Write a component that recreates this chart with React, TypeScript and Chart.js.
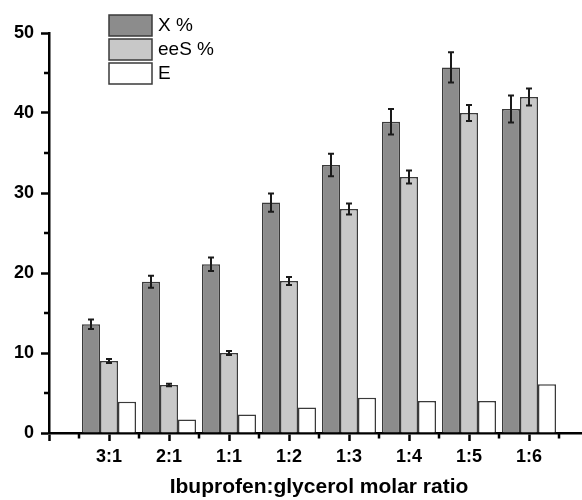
import React, { useEffect, useRef } from 'react';
import { Chart, registerables } from 'chart.js';

Chart.register(...registerables);

const categories = ['3:1', '2:1', '1:1', '1:2', '1:3', '1:4', '1:5', '1:6'];
const xValues = [13.6, 18.9, 21.1, 28.8, 33.5, 38.9, 45.7, 40.5];
const xErrors = [0.6, 0.75, 0.85, 1.15, 1.4, 1.6, 1.9, 1.7];
const eeSValues = [9.0, 6.0, 10.0, 19.0, 28.0, 32.0, 40.0, 42.0];
const eeSErrors = [0.25, 0.15, 0.25, 0.5, 0.7, 0.8, 1.0, 1.05];
const eValues = [3.9, 1.7, 2.3, 3.2, 4.4, 4.0, 4.0, 6.1];
const seriesNames = ['X %', 'eeS %', 'E'];
const yTicks = [0, 10, 20, 30, 40, 50];
const xTitle = 'Ibuprofen:glycerol molar ratio';

const FONT = "'Liberation Sans', Arial, Helvetica, sans-serif";
const fills = ['#8c8c8c', '#c8c8c8', '#ffffff'];
const edge = '#3a3a3a';

export default function App() {
  const ref = useRef<HTMLCanvasElement>(null);

  useEffect(() => {
    const canvas = ref.current;
    if (!canvas) return;
    const pad = (arr: number[]) => [null, ...arr, null];
    const labels = ['', ...categories, ''];
    const errs: (number[] | null)[] = [xErrors, eeSErrors, null];

    const errorBars = {
      id: 'errorBars',
      afterDatasetsDraw(chart: any) {
        const ctx = chart.ctx;
        const ys = chart.scales.y;
        ctx.save();
        ctx.strokeStyle = '#1a1a1a';
        ctx.lineWidth = 2;
        errs.forEach((e, di) => {
          if (!e) return;
          const meta = chart.getDatasetMeta(di);
          const vals = chart.data.datasets[di].data;
          meta.data.forEach((el: any, j: number) => {
            const v = vals[j];
            if (v == null) return;
            const err = e[j - 1];
            const x = el.x;
            const yTop = ys.getPixelForValue(v + err);
            const yBot = ys.getPixelForValue(v - err);
            ctx.beginPath();
            ctx.moveTo(x, yTop);
            ctx.lineTo(x, yBot);
            ctx.moveTo(x - 3, yTop);
            ctx.lineTo(x + 3, yTop);
            ctx.moveTo(x - 3, yBot);
            ctx.lineTo(x + 3, yBot);
            ctx.stroke();
          });
        });
        ctx.restore();
      },
    };

    const minorTicks = {
      id: 'minorTicks',
      afterDraw(chart: any) {
        const ctx = chart.ctx;
        const xs = chart.scales.x;
        const ys = chart.scales.y;
        const area = chart.chartArea;
        ctx.save();
        ctx.strokeStyle = '#000';
        ctx.lineWidth = 2.5;
        ctx.beginPath();
        for (let i = 0; i < yTicks.length - 1; i++) {
          const v = (yTicks[i] + yTicks[i + 1]) / 2;
          const y = ys.getPixelForValue(v);
          ctx.moveTo(area.left, y);
          ctx.lineTo(area.left - 5, y);
        }
        for (let i = 0; i < labels.length - 1; i++) {
          const x = (xs.getPixelForValue(i) + xs.getPixelForValue(i + 1)) / 2;
          ctx.moveTo(x, area.bottom);
          ctx.lineTo(x, area.bottom + 5.5);
        }
        ctx.stroke();
        ctx.restore();
      },
    };

    const legendBoxes = {
      id: 'legendBoxes',
      afterDraw(chart: any) {
        const ctx = chart.ctx;
        ctx.save();
        const bx = 109;
        const bw = 43;
        const bh = 21;
        const step = 24;
        const top0 = 15;
        ctx.font = `19px ${FONT}`;
        ctx.textBaseline = 'middle';
        ctx.textAlign = 'left';
        seriesNames.forEach((name, i) => {
          const y = top0 + i * step;
          ctx.fillStyle = fills[i];
          ctx.fillRect(bx, y, bw, bh);
          ctx.strokeStyle = edge;
          ctx.lineWidth = 1.5;
          ctx.strokeRect(bx, y, bw, bh);
          ctx.fillStyle = '#000';
          ctx.fillText(name, bx + bw + 6, y + bh / 2 + 0.5);
        });
        ctx.restore();
      },
    };

    const chart = new Chart(canvas, {
      type: 'bar',
      data: {
        labels,
        datasets: [
          { label: seriesNames[0], data: pad(xValues), backgroundColor: fills[0], borderColor: edge, borderWidth: 1.5 },
          { label: seriesNames[1], data: pad(eeSValues), backgroundColor: fills[1], borderColor: edge, borderWidth: 1.5 },
          { label: seriesNames[2], data: pad(eValues), backgroundColor: fills[2], borderColor: edge, borderWidth: 1.5 },
        ],
      },
      options: {
        responsive: false,
        maintainAspectRatio: false,
        animation: false,
        devicePixelRatio: 1,
        layout: { padding: { top: 33, right: 11, left: 0, bottom: 0 } },
        datasets: { bar: { categoryPercentage: 0.9, barPercentage: 1.0 } },
        plugins: {
          legend: { display: false },
          tooltip: { enabled: false },
          title: { display: false },
        },
        scales: {
          x: {
            type: 'category',
            offset: false,
            grid: {
              offset: false,
              drawOnChartArea: false,
              drawTicks: true,
              tickLength: 8,
              tickWidth: 2.5,
              tickColor: '#000',
              color: '#000',
            },
            border: { display: true, color: '#000', width: 2.5 },
            ticks: {
              autoSkip: false,
              maxRotation: 0,
              minRotation: 0,
              padding: 5,
              color: '#000',
              font: { family: FONT, size: 18, weight: 'bold' },
            },
            title: {
              display: true,
              text: xTitle,
              color: '#000',
              font: { family: FONT, size: 21, weight: 'bold' },
              padding: { top: 0, bottom: 0 },
            },
            afterFit(scale: any) {
              scale.height = 67;
            },
          },
          y: {
            type: 'linear',
            min: 0,
            max: 50,
            grid: {
              drawOnChartArea: false,
              drawTicks: true,
              tickLength: 8,
              tickWidth: 2.5,
              tickColor: '#000',
              color: '#000',
            },
            border: { display: true, color: '#000', width: 2.5 },
            ticks: {
              stepSize: 10,
              padding: 7,
              color: '#000',
              font: { family: FONT, size: 18, weight: 'bold' },
            },
            afterBuildTicks(scale: any) {
              scale.ticks = yTicks.map((v) => ({ value: v }));
            },
            afterFit(scale: any) {
              scale.width = 49;
            },
          },
        },
      },
      plugins: [errorBars, minorTicks, legendBoxes],
    } as any);

    return () => chart.destroy();
  }, []);

  return (
    <div
      style={{
        position: 'absolute',
        left: 0,
        top: 0,
        width: 582,
        height: 500,
        overflow: 'hidden',
        background: '#fff',
      }}
    >
      <canvas ref={ref} width={600} height={500} style={{ display: 'block', width: 600, height: 500 }} />
    </div>
  );
}
